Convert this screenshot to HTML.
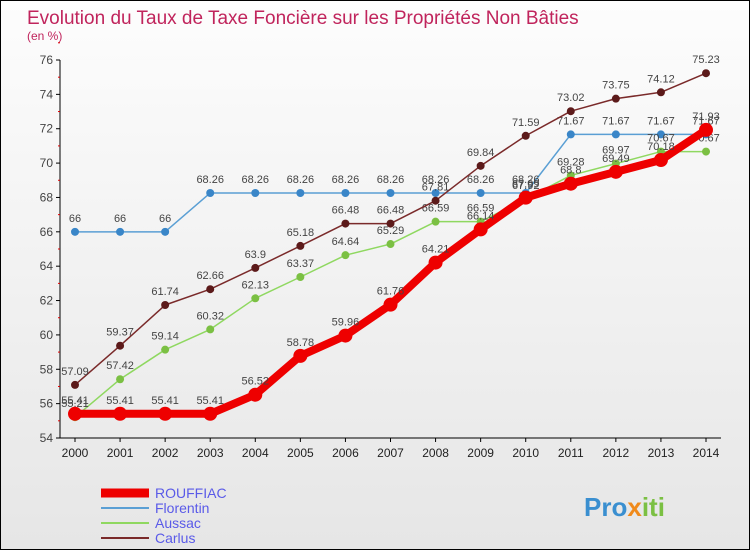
<!DOCTYPE html>
<html><head><meta charset="utf-8"><style>
body{margin:0;width:750px;height:550px;overflow:hidden;font-family:"Liberation Sans",sans-serif}
#wrap{position:relative;width:748px;height:548px;border:1px solid #000;background:linear-gradient(#fdfdfd,#e6e6e6)}
</style></head><body>
<div id="wrap">
<svg id="chart" width="748" height="548" xmlns="http://www.w3.org/2000/svg">
<text x="26" y="23" font-size="19" fill="#c0245c">Evolution du Taux de Taxe Foncière sur les Propriétés Non Bâties</text>
<text x="26" y="39" font-size="12" fill="#c0245c">(en %)</text>
<text x="583" y="515" font-size="26" font-weight="bold" fill="#3a8fd0">Pro<tspan fill="#f08a1a">x</tspan><tspan fill="#7bc043">iti</tspan></text>
</svg>
</div>
<script>
const years=[2000,2001,2002,2003,2004,2005,2006,2007,2008,2009,2010,2011,2012,2013,2014];
const rouffiac=[55.41,55.41,55.41,55.41,56.52,58.78,59.96,61.76,64.21,66.14,67.99,68.8,69.49,70.18,71.93];
const florentin=[66,66,66,68.26,68.26,68.26,68.26,68.26,68.26,68.26,68.26,71.67,71.67,71.67,71.67];
const aussac=[55.21,57.42,59.14,60.32,62.13,63.37,64.64,65.29,66.59,66.59,67.92,69.28,69.97,70.67,70.67];
const carlus=[57.09,59.37,61.74,62.66,63.9,65.18,66.48,66.48,67.81,69.84,71.59,73.02,73.75,74.12,75.23];
const yTicks=[54,56,58,60,62,64,66,68,70,72,74,76];
const NS="http://www.w3.org/2000/svg";
const svg=document.getElementById('chart');
const X=i=>74+i*(705-74)/14;
const Y=v=>437-(v-54)*(437-59)/22;
function mk(t,a,p){const e=document.createElementNS(NS,t);for(const k in a)e.setAttribute(k,a[k]);(p||svg).appendChild(e);return e;}
const ax=mk('g',{});


mk('line',{x1:59,y1:59,x2:59,y2:437,stroke:'#000'},ax);
mk('line',{x1:59,y1:437,x2:720,y2:437,stroke:'#000'},ax);
yTicks.forEach(v=>{
 mk('line',{x1:55,y1:Y(v),x2:59,y2:Y(v),stroke:'#000'},ax);
 mk('line',{x1:57,y1:Y(v+1),x2:59,y2:Y(v+1),stroke:'#d00'},ax);
 const t=mk('text',{x:52,y:Y(v)+4,'font-size':12,fill:'#444','text-anchor':'end'},ax);t.textContent=v;
 
 
});
years.forEach((yr,i)=>{
 mk('line',{x1:X(i),y1:437,x2:X(i),y2:441,stroke:'#000'},ax);
 const t=mk('text',{x:X(i),y:456,'font-size':12,fill:'#222','text-anchor':'middle'},ax);t.textContent=yr;
 
 
});
function series(name,data,color,w,r,dot){
 const g=mk('g',{});
 
 
 mk('polyline',{points:data.map((v,i)=>X(i)+','+Y(v)).join(' '),fill:'none',stroke:color,'stroke-width':w,'stroke-linejoin':'round'},g);
 data.forEach((v,i)=>{
  const c=mk('circle',{cx:X(i),cy:Y(v),r:r,fill:dot},g);
  
  
  const t=mk('text',{x:X(i),y:Y(v)-10,'font-size':11,fill:'#444','text-anchor':'middle'},g);t.textContent=v;
  
  
 });
}
series('florentin',florentin,'#5a9fd4',1.5,4,'#3a86c8');
series('aussac',aussac,'#8fd860',1.5,4,'#7bc043');
series('carlus',carlus,'#7a2a2a',1.5,4,'#5c1a1a');
series('rouffiac',rouffiac,'#ee0000',8,7,'#ee0000');
const leg=[['rouffiac','ROUFFIAC','#ee0000',9],['florentin','Florentin','#5a9fd4',2],['aussac','Aussac','#8fd860',2],['carlus','Carlus','#7a2a2a',2]];
leg.forEach((l,k)=>{
 const g=mk('g',{});
 
 
 const y=492+k*15;
 mk('line',{x1:100,y1:y,x2:148,y2:y,stroke:l[2],'stroke-width':l[3]},g);
 const t=mk('text',{x:154,y:y+5,'font-size':14,fill:'#5a5ae8'},g);t.textContent=l[1];
});
</script>
</body></html>
